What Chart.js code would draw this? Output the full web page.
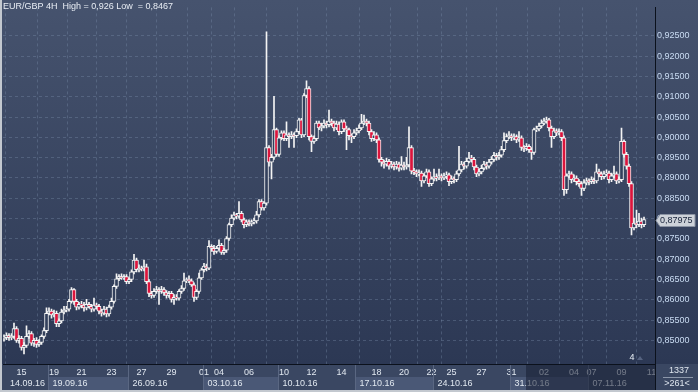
<!DOCTYPE html>
<html>
<head>
<meta charset="utf-8">
<script src="https://cdn.jsdelivr.net/npm/chart.js@4.4.0/dist/chart.umd.min.js"></script>
<style>
  html, body { margin: 0; padding: 0; background: #2f3b56; }
  #wrap { width: 698px; height: 392px; }
</style>
</head>
<body>
<div id="wrap"><canvas id="chart" width="698" height="392"></canvas></div>
<script>
// EUR/GBP 4H candles, 14.09.16 - 11.11.16
const opens = [
  0.8505,0.8507,0.8512,0.8507,0.8510,0.8529,0.8500,0.8505,0.8483,0.8488,
  0.8510,0.8517,0.8493,0.8500,0.8490,0.8495,0.8510,0.8524,0.8567,0.8572,
  0.8563,0.8567,0.8541,0.8548,0.8570,0.8575,0.8577,0.8596,0.8625,0.8596,
  0.8582,0.8589,0.8587,0.8580,0.8589,0.8584,0.8577,0.8587,0.8584,0.8572,
  0.8567,0.8577,0.8565,0.8582,0.8596,0.8633,0.8652,0.8657,0.8654,0.8657,
  0.8645,0.8650,0.8669,0.8698,0.8674,0.8678,0.8676,0.8681,0.8645,0.8616,
  0.8611,0.8621,0.8625,0.8621,0.8625,0.8618,0.8611,0.8616,0.8601,0.8606,
  0.8604,0.8621,0.8628,0.8647,0.8650,0.8647,0.8637,0.8606,0.8621,0.8654,
  0.8674,0.8683,0.8678,0.8732,0.8727,0.8719,0.8727,0.8734,0.8717,0.8722,
  0.8751,0.8785,0.8801,0.8809,0.8806,0.8813,0.8797,0.8785,0.8792,0.8787,
  0.8792,0.8794,0.8809,0.8842,0.8826,0.8838,0.8975,0.8939,0.8951,0.9019,
  0.8958,0.8999,0.9011,0.8997,0.9006,0.9002,0.9006,0.9004,0.9014,0.9043,
  0.9006,0.9103,0.9120,0.9002,0.8990,0.8997,0.9035,0.9023,0.9028,0.9035,
  0.9031,0.9040,0.9035,0.9023,0.9033,0.9014,0.9038,0.9021,0.9019,0.9004,
  0.9002,0.9011,0.9016,0.9023,0.9035,0.9040,0.9035,0.9014,0.8997,0.9006,
  0.8994,0.8946,0.8939,0.8934,0.8941,0.8929,0.8934,0.8927,0.8934,0.8924,
  0.8932,0.8927,0.8932,0.8975,0.8917,0.8915,0.8910,0.8912,0.8893,0.8905,
  0.8915,0.8886,0.8898,0.8903,0.8900,0.8905,0.8900,0.8905,0.8908,0.8891,
  0.8898,0.8896,0.8910,0.8920,0.8934,0.8929,0.8941,0.8949,0.8946,0.8927,
  0.8910,0.8915,0.8924,0.8934,0.8929,0.8939,0.8946,0.8956,0.8951,0.8956,
  0.8970,0.8992,0.9002,0.9004,0.8999,0.9002,0.8994,0.8999,0.8975,0.8973,
  0.8978,0.8970,0.8963,0.9019,0.9021,0.9028,0.9035,0.9040,0.9043,0.9023,
  0.9002,0.9016,0.9011,0.9014,0.8999,0.8871,0.8905,0.8910,0.8896,0.8900,
  0.8891,0.8886,0.8874,0.8888,0.8893,0.8891,0.8896,0.8893,0.8915,0.8910,
  0.8903,0.8910,0.8912,0.8896,0.8905,0.8910,0.8893,0.8896,0.8990,0.8958,
  0.8929,0.8886,0.8777,0.8789,0.8785,0.8794,0.8785
];
const closes = [
  0.8507,0.8512,0.8507,0.8510,0.8529,0.8500,0.8505,0.8483,0.8488,0.8510,
  0.8517,0.8493,0.8500,0.8490,0.8495,0.8510,0.8524,0.8567,0.8572,0.8563,
  0.8567,0.8541,0.8548,0.8570,0.8575,0.8577,0.8596,0.8625,0.8596,0.8582,
  0.8589,0.8587,0.8580,0.8589,0.8584,0.8577,0.8587,0.8584,0.8572,0.8567,
  0.8577,0.8565,0.8582,0.8596,0.8633,0.8652,0.8657,0.8654,0.8657,0.8645,
  0.8650,0.8669,0.8698,0.8674,0.8678,0.8676,0.8681,0.8645,0.8616,0.8611,
  0.8621,0.8625,0.8621,0.8625,0.8618,0.8611,0.8616,0.8601,0.8606,0.8604,
  0.8621,0.8628,0.8647,0.8650,0.8647,0.8637,0.8606,0.8621,0.8654,0.8674,
  0.8683,0.8678,0.8732,0.8727,0.8719,0.8727,0.8734,0.8717,0.8722,0.8751,
  0.8785,0.8801,0.8809,0.8806,0.8813,0.8797,0.8785,0.8792,0.8787,0.8792,
  0.8794,0.8809,0.8842,0.8826,0.8838,0.8975,0.8939,0.8951,0.9019,0.8958,
  0.8999,0.9011,0.8997,0.9006,0.9002,0.9006,0.9004,0.9014,0.9043,0.9006,
  0.9103,0.9120,0.9002,0.8990,0.8997,0.9035,0.9023,0.9028,0.9035,0.9031,
  0.9040,0.9035,0.9023,0.9033,0.9014,0.9038,0.9021,0.9019,0.9004,0.9002,
  0.9011,0.9016,0.9023,0.9035,0.9040,0.9035,0.9014,0.8997,0.9006,0.8994,
  0.8946,0.8939,0.8934,0.8941,0.8929,0.8934,0.8927,0.8934,0.8924,0.8932,
  0.8927,0.8932,0.8975,0.8917,0.8915,0.8910,0.8912,0.8893,0.8905,0.8915,
  0.8886,0.8898,0.8903,0.8900,0.8905,0.8900,0.8905,0.8908,0.8891,0.8898,
  0.8896,0.8910,0.8920,0.8934,0.8929,0.8941,0.8949,0.8946,0.8927,0.8910,
  0.8915,0.8924,0.8934,0.8929,0.8939,0.8946,0.8956,0.8951,0.8956,0.8970,
  0.8992,0.9002,0.9004,0.8999,0.9002,0.8994,0.8999,0.8975,0.8973,0.8978,
  0.8970,0.8963,0.9019,0.9021,0.9028,0.9035,0.9040,0.9043,0.9023,0.9002,
  0.9016,0.9011,0.9014,0.8999,0.8871,0.8905,0.8910,0.8896,0.8900,0.8891,
  0.8886,0.8874,0.8888,0.8893,0.8891,0.8896,0.8893,0.8915,0.8910,0.8903,
  0.8910,0.8912,0.8896,0.8905,0.8910,0.8893,0.8896,0.8990,0.8958,0.8929,
  0.8886,0.8777,0.8789,0.8785,0.8794,0.8785,0.87975
];
const highs = [
  0.8514,0.8519,0.8517,0.8517,0.8543,0.8534,0.8512,0.8510,0.8495,0.8536,
  0.8524,0.8522,0.8505,0.8507,0.8502,0.8514,0.8531,0.8580,0.8580,0.8577,
  0.8575,0.8572,0.8553,0.8577,0.8584,0.8584,0.8601,0.8630,0.8628,0.8601,
  0.8594,0.8596,0.8594,0.8601,0.8594,0.8589,0.8604,0.8592,0.8589,0.8577,
  0.8584,0.8582,0.8587,0.8604,0.8637,0.8664,0.8662,0.8664,0.8662,0.8662,
  0.8654,0.8674,0.8712,0.8703,0.8686,0.8683,0.8698,0.8688,0.8650,0.8621,
  0.8628,0.8633,0.8630,0.8633,0.8630,0.8623,0.8621,0.8621,0.8613,0.8613,
  0.8625,0.8635,0.8666,0.8654,0.8659,0.8652,0.8642,0.8625,0.8666,0.8678,
  0.8690,0.8688,0.8746,0.8736,0.8734,0.8732,0.8748,0.8739,0.8727,0.8756,
  0.8789,0.8809,0.8816,0.8813,0.8842,0.8818,0.8801,0.8797,0.8797,0.8797,
  0.8801,0.8818,0.8847,0.8847,0.8842,0.9260,0.8980,0.8958,0.9101,0.9023,
  0.9004,0.9016,0.9016,0.9038,0.9011,0.9014,0.9011,0.9021,0.9047,0.9047,
  0.9108,0.9139,0.9125,0.9006,0.9004,0.9040,0.9040,0.9035,0.9043,0.9040,
  0.9067,0.9045,0.9040,0.9040,0.9038,0.9043,0.9043,0.9028,0.9023,0.9009,
  0.9019,0.9023,0.9031,0.9057,0.9055,0.9045,0.9040,0.9019,0.9014,0.9011,
  0.8999,0.8951,0.8944,0.8949,0.8946,0.8941,0.8939,0.8941,0.8939,0.8953,
  0.8939,0.8951,0.9026,0.8980,0.8924,0.8920,0.8920,0.8917,0.8910,0.8922,
  0.8920,0.8903,0.8922,0.8910,0.8922,0.8910,0.8912,0.8915,0.8912,0.8905,
  0.8903,0.8917,0.8978,0.8941,0.8939,0.8949,0.8963,0.8956,0.8951,0.8932,
  0.8922,0.8932,0.8941,0.8939,0.8946,0.8953,0.8963,0.8961,0.8963,0.8978,
  0.9011,0.9009,0.9014,0.9009,0.9009,0.9006,0.9014,0.9004,0.8980,0.8985,
  0.8982,0.8975,0.9023,0.9028,0.9035,0.9043,0.9047,0.9050,0.9047,0.9028,
  0.9023,0.9021,0.9021,0.9019,0.9004,0.8910,0.8917,0.8915,0.8908,0.8905,
  0.8896,0.8891,0.8896,0.8900,0.8898,0.8903,0.8900,0.8934,0.8922,0.8915,
  0.8917,0.8920,0.8917,0.8912,0.8929,0.8915,0.8903,0.9023,0.8994,0.8963,
  0.8934,0.8891,0.8801,0.8821,0.8813,0.8801,0.8804
];
const lows = [
  0.8498,0.8502,0.8500,0.8502,0.8505,0.8495,0.8493,0.8476,0.8467,0.8483,
  0.8505,0.8488,0.8485,0.8483,0.8485,0.8490,0.8505,0.8519,0.8563,0.8555,
  0.8558,0.8534,0.8534,0.8543,0.8565,0.8570,0.8572,0.8592,0.8589,0.8575,
  0.8577,0.8580,0.8572,0.8575,0.8580,0.8570,0.8572,0.8577,0.8565,0.8560,
  0.8563,0.8558,0.8560,0.8577,0.8592,0.8628,0.8647,0.8650,0.8650,0.8640,
  0.8640,0.8645,0.8664,0.8669,0.8669,0.8671,0.8671,0.8640,0.8608,0.8604,
  0.8606,0.8616,0.8589,0.8616,0.8611,0.8604,0.8606,0.8594,0.8589,0.8599,
  0.8599,0.8616,0.8623,0.8642,0.8642,0.8633,0.8596,0.8601,0.8616,0.8650,
  0.8669,0.8671,0.8674,0.8719,0.8712,0.8715,0.8722,0.8712,0.8712,0.8717,
  0.8746,0.8780,0.8797,0.8799,0.8801,0.8792,0.8777,0.8780,0.8782,0.8782,
  0.8787,0.8789,0.8804,0.8821,0.8821,0.8833,0.8929,0.8898,0.8946,0.8953,
  0.8953,0.8994,0.8992,0.8992,0.8975,0.8997,0.8975,0.8999,0.9009,0.8999,
  0.9002,0.9098,0.8994,0.8965,0.8985,0.8992,0.9019,0.9016,0.9023,0.9023,
  0.9026,0.9028,0.9016,0.9019,0.9006,0.9009,0.9014,0.8970,0.8994,0.8987,
  0.8997,0.9006,0.9011,0.9019,0.9031,0.9028,0.9006,0.8990,0.8992,0.8987,
  0.8939,0.8929,0.8924,0.8929,0.8922,0.8924,0.8920,0.8922,0.8917,0.8920,
  0.8920,0.8922,0.8927,0.8910,0.8908,0.8903,0.8905,0.8879,0.8888,0.8900,
  0.8879,0.8881,0.8893,0.8893,0.8896,0.8893,0.8896,0.8898,0.8881,0.8886,
  0.8888,0.8891,0.8905,0.8915,0.8922,0.8924,0.8937,0.8939,0.8920,0.8903,
  0.8905,0.8910,0.8920,0.8922,0.8924,0.8934,0.8941,0.8944,0.8946,0.8951,
  0.8965,0.8987,0.8997,0.8992,0.8994,0.8987,0.8990,0.8968,0.8965,0.8968,
  0.8963,0.8946,0.8958,0.9014,0.9016,0.9023,0.9031,0.9035,0.9016,0.8975,
  0.8997,0.9004,0.9006,0.8992,0.8857,0.8862,0.8900,0.8888,0.8891,0.8883,
  0.8879,0.8857,0.8869,0.8883,0.8883,0.8886,0.8886,0.8888,0.8903,0.8896,
  0.8898,0.8905,0.8888,0.8891,0.8900,0.8886,0.8888,0.8891,0.8951,0.8922,
  0.8879,0.8760,0.8772,0.8777,0.8780,0.8777,0.8780
];

// day labels: candle index where the labelled day sits
const dayIdx = [7, 20, 31, 43, 55, 67, 80, 86, 98, 112, 123, 135, 149, 160, 171, 179, 191, 203, 216, 228, 235, 247, 259];
const dayLabels = ['15', '19', '21', '23', '27', '29', '01', '04', '06', '10', '12', '14', '18', '20', '22', '25', '27', '31', '02', '04', '07', '09', '11'];
// week labels: first candle of each week
const weekIdx = [0, 18, 50, 80, 110, 141, 172, 203, 234];
const weekLabels = ['14.09.16', '19.09.16', '26.09.16', '03.10.16', '10.10.16', '17.10.16', '24.10.16', '31.10.16', '07.11.16'];
const priceTicks = [0.850, 0.855, 0.860, 0.865, 0.870, 0.875, 0.880, 0.885, 0.890, 0.895, 0.900, 0.905, 0.910, 0.915, 0.920, 0.925];

const title = 'EUR/GBP 4H  High = 0,926 Low  = 0,8467';
const FONT = '9px "Liberation Sans", Arial, sans-serif';
const RED = '#dc143c';
const fmt = v => v.toFixed(5).replace('.', ',');

const wickData = closes.map((c, i) => ({ x: i, y: [lows[i], highs[i]] }));
const bodyData = closes.map((c, i) => ({ x: i, y: [opens[i], c] }));
const bodyColors = closes.map((c, i) => c < opens[i] ? RED : '#33405c');

const decor = {
    id: 'decor',
    beforeDraw(chart) {
        const { ctx, chartArea: a, width, height } = chart;
        ctx.save();
        const g = ctx.createLinearGradient(0, 0, 0, a.bottom);
        g.addColorStop(0, '#46536e');
        g.addColorStop(1, '#2c3854');
        ctx.fillStyle = g;
        ctx.fillRect(0, 0, width, a.bottom);
        ctx.fillStyle = '#3a4762';
        ctx.fillRect(0, a.bottom, width, height - a.bottom);
        ctx.restore();
    },
    afterDraw(chart) {
        const { ctx, chartArea: a, width, height, scales } = chart;
        const xs = scales.x, ys = scales.y;
        ctx.save();
        ctx.font = FONT;
        ctx.textBaseline = 'middle';

        // week row
        weekIdx.forEach((w, k) => {
            const x0 = k === 0 ? a.left : Math.round(xs.getPixelForValue(w - 0.5)) + 0.5;
            const x1 = k < weekIdx.length - 1 ? Math.round(xs.getPixelForValue(weekIdx[k + 1] - 0.5)) + 0.5 : a.right;
            if (k % 2 === 1) {
                ctx.fillStyle = '#4a5876';
                ctx.fillRect(x0, a.bottom + 13, x1 - x0, 13);
            }
            if (k > 0) {
                ctx.strokeStyle = '#5a6782';
                ctx.lineWidth = 1;
                ctx.beginPath();
                ctx.moveTo(x0, a.bottom + 1);
                ctx.lineTo(x0, height - 2);
                ctx.stroke();
            }
            ctx.fillStyle = '#e1e8f0';
            ctx.textAlign = 'left';
            ctx.fillText(weekLabels[k], k === 0 ? 10 : x0 + 4, a.bottom + 19.5);
        });

        // dimmed part of the time axis
        const xd = Math.round(xs.getPixelForValue(208.7));
        ctx.fillStyle = 'rgba(22,30,50,0.55)';
        ctx.fillRect(xd, a.bottom + 1, a.right - xd, height - a.bottom - 3);

        // bottom-right box
        ctx.strokeStyle = '#0b111c';
        ctx.beginPath();
        ctx.moveTo(a.right + 0.5, a.bottom);
        ctx.lineTo(a.right + 0.5, height);
        ctx.stroke();
        ctx.fillStyle = '#dfe6ef';
        ctx.textAlign = 'center';
        ctx.fillText('1337', 679, a.bottom + 7);
        ctx.fillText('>261<', 677, a.bottom + 20);
        ctx.strokeStyle = '#8c97aa';
        ctx.beginPath();
        ctx.moveTo(663, a.bottom + 13.5);
        ctx.lineTo(693, a.bottom + 13.5);
        ctx.stroke();

        // marker near the last bars
        ctx.fillStyle = '#e8eef5';
        ctx.fillText('4', 632, a.bottom - 6);
        ctx.fillStyle = '#566380';
        ctx.beginPath();
        ctx.moveTo(637, a.bottom - 4);
        ctx.lineTo(643, a.bottom - 4);
        ctx.lineTo(640, a.bottom - 8);
        ctx.closePath();
        ctx.fill();

        // last price tag
        const last = closes[closes.length - 1];
        const yp = Math.round(ys.getPixelForValue(last)) + 0.5;
        ctx.beginPath();
        ctx.moveTo(a.right + 1, yp);
        ctx.lineTo(a.right + 5, yp - 6);
        ctx.lineTo(695, yp - 6);
        ctx.lineTo(695, yp + 6);
        ctx.lineTo(a.right + 5, yp + 6);
        ctx.closePath();
        ctx.fillStyle = '#cdd2d9';
        ctx.fill();
        ctx.strokeStyle = '#8a93a3';
        ctx.stroke();
        ctx.fillStyle = '#18233a';
        ctx.textAlign = 'left';
        ctx.fillText(fmt(last), a.right + 5, yp);

        // title
        ctx.fillStyle = '#e8edf4';
        ctx.fillText(title, 3, 7);

        // frame
        ctx.fillStyle = '#c3c8cf';
        ctx.fillRect(0, 0, 2, height);
        ctx.fillRect(0, height - 2, width, 2);
        ctx.restore();
    }
};

new Chart(document.getElementById('chart'), {
    type: 'bar',
    data: {
        datasets: [
            {
                label: 'body',
                data: bodyData,
                backgroundColor: bodyColors,
                borderColor: '#f4f4f4',
                borderWidth: 1,
                borderSkipped: false,
                barThickness: 4,
                minBarLength: 1,
                grouped: false,
                order: 1
            },
            {
                label: 'wick',
                data: wickData,
                backgroundColor: '#f4f4f4',
                borderWidth: 0,
                barThickness: 1,
                grouped: false,
                order: 2
            }
        ]
    },
    options: {
        responsive: false,
        animation: false,
        layout: { padding: { left: 3, top: 0, right: 0, bottom: 0 } },
        plugins: { legend: { display: false }, tooltip: { enabled: false } },
        scales: {
            x: {
                type: 'linear',
                min: -0.4,
                max: 260.4,
                bounds: 'data',
                offset: false,
                afterBuildTicks: s => { s.ticks = dayIdx.map(v => ({ value: v })); },
                afterFit: s => { s.height = 28; },
                ticks: {
                    autoSkip: false,
                    maxRotation: 0,
                    padding: 3,
                    color: '#e1e8f0',
                    font: { family: '"Liberation Sans", Arial, sans-serif', size: 9 },
                    callback: (v, i) => dayLabels[i]
                },
                grid: { color: 'rgba(125,145,175,0.35)', drawTicks: false },
                border: { display: true, color: '#0b111c', width: 1, dash: [3, 3] }
            },
            y: {
                position: 'right',
                min: 0.8442,
                max: 0.9320,
                bounds: 'data',
                afterBuildTicks: s => { s.ticks = priceTicks.map(v => ({ value: v })); },
                afterFit: s => { s.width = 43; },
                ticks: {
                    padding: 2,
                    color: '#cadcf3',
                    font: { family: '"Liberation Sans", Arial, sans-serif', size: 9 },
                    callback: v => fmt(v)
                },
                grid: { color: 'rgba(125,145,175,0.35)', drawTicks: false },
                border: { display: true, color: '#0b111c', width: 1, dash: [3, 3] }
            }
        }
    },
    plugins: [decor]
});
</script>
</body>
</html>
